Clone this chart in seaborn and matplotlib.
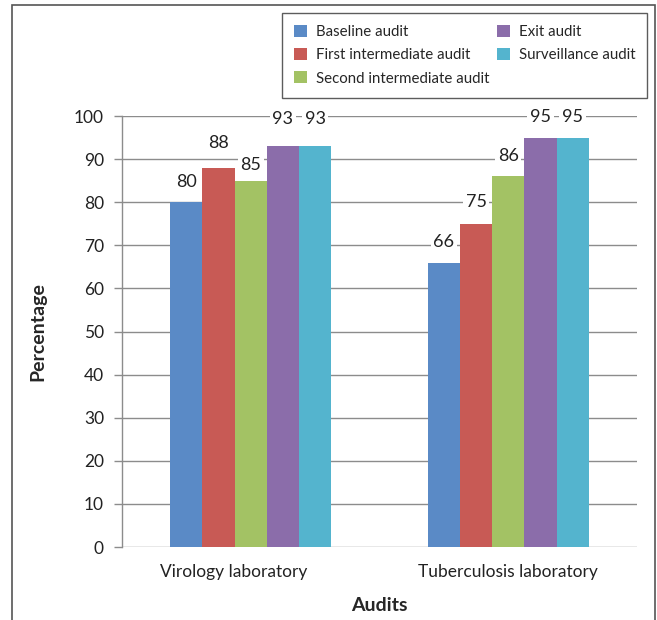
import matplotlib
matplotlib.use("Agg")
import matplotlib.pyplot as plt
import matplotlib.transforms as mtransforms
import seaborn as sns
import pandas as pd
from matplotlib.patches import Rectangle

categories = ["Virology laboratory", "Tuberculosis laboratory"]
series = ["Baseline audit", "First intermediate audit", "Second intermediate audit",
          "Exit audit", "Surveillance audit"]
values = {
    "Baseline audit": [80, 66],
    "First intermediate audit": [88, 75],
    "Second intermediate audit": [85, 86],
    "Exit audit": [93, 95],
    "Surveillance audit": [93, 95],
}
colors = ["#5A8AC6", "#C85A55", "#A3C264", "#8B6DAA", "#54B4CE"]
yticks = [0, 10, 20, 30, 40, 50, 60, 70, 80, 90, 100]
# label gap (points) above each bar, per series, per category
label_pads = {
    "Baseline audit": [9, 9],
    "First intermediate audit": [12, 10],
    "Second intermediate audit": [5.5, 9],
    "Exit audit": [14, 9],
    "Surveillance audit": [14, 9],
}

rows = []
for s in series:
    for c, v in zip(categories, values[s]):
        rows.append({"Lab": c, "Audit": s, "Percentage": v})
df = pd.DataFrame(rows)

sns.set_style("white")
plt.rcParams["font.family"] = ["Lato", "DejaVu Sans"]

fig = plt.figure(figsize=(6.57, 6.2), dpi=100)
ax = fig.add_axes([0.1857, 0.1177, 0.7839, 0.6952])

sns.barplot(data=df, x="Lab", y="Percentage", hue="Audit", hue_order=series,
            order=categories, palette=colors, width=0.625, saturation=1,
            edgecolor="none", ax=ax, legend=True)

ax.set_ylim(0, 100)
ax.set_yticks(yticks)
ax.set_xlim(-0.5, 1.5)
ax.yaxis.grid(True, color="#8c8c8c", linewidth=1)
ax.set_axisbelow(True)
for side in ["top", "right", "bottom"]:
    ax.spines[side].set_visible(False)
ax.spines["left"].set_color("#8c8c8c")
ax.spines["left"].set_linewidth(1)
ax.tick_params(axis="y", left=True, length=6, color="#8c8c8c", width=1,
               labelsize=12.5, pad=7, labelcolor="#222222")
ax.tick_params(axis="x", bottom=False, labelsize=12.5, pad=9, labelcolor="#222222")
ax.set_ylabel("Percentage", fontsize=14, fontweight="bold", labelpad=20)
ax.set_xlabel("Audits", fontsize=14, fontweight="bold", labelpad=12)

# the first category label sits a little left of its group in the reference
lbl0 = ax.get_xticklabels()[0]
lbl0.set_transform(lbl0.get_transform() +
                   mtransforms.ScaledTranslation(-17 / 100, 0, fig.dpi_scale_trans))

for s, cont in zip(series, ax.containers):
    anns = ax.bar_label(cont, fmt="%d", padding=9, fontsize=13, color="#222222",
                        bbox=dict(facecolor="white", edgecolor="none", pad=2))
    for ann, p in zip(anns, label_pads[s]):
        ann.xyann = (0, p)

handles, labels = ax.get_legend_handles_labels()
ax.get_legend().remove()
leg = fig.legend(handles, labels, loc="upper left", ncol=2,
                 bbox_to_anchor=(0.429, 0.979, 0.556, 0.0), mode="expand",
                 borderaxespad=0, fontsize=10.8, frameon=True, fancybox=False,
                 handlelength=0.85, handleheight=0.85, handletextpad=0.6,
                 labelspacing=0.6, columnspacing=1.0, borderpad=0.8)
leg.get_frame().set_edgecolor("#333333")
leg.get_frame().set_linewidth(1)

fig.patches.append(Rectangle((12 / 657, -0.05), (655 - 12) / 657, 1.05 - 5 / 620,
                             transform=fig.transFigure, fill=False,
                             edgecolor="#555555", linewidth=1.2))

fig.savefig("out.png", dpi=100)
